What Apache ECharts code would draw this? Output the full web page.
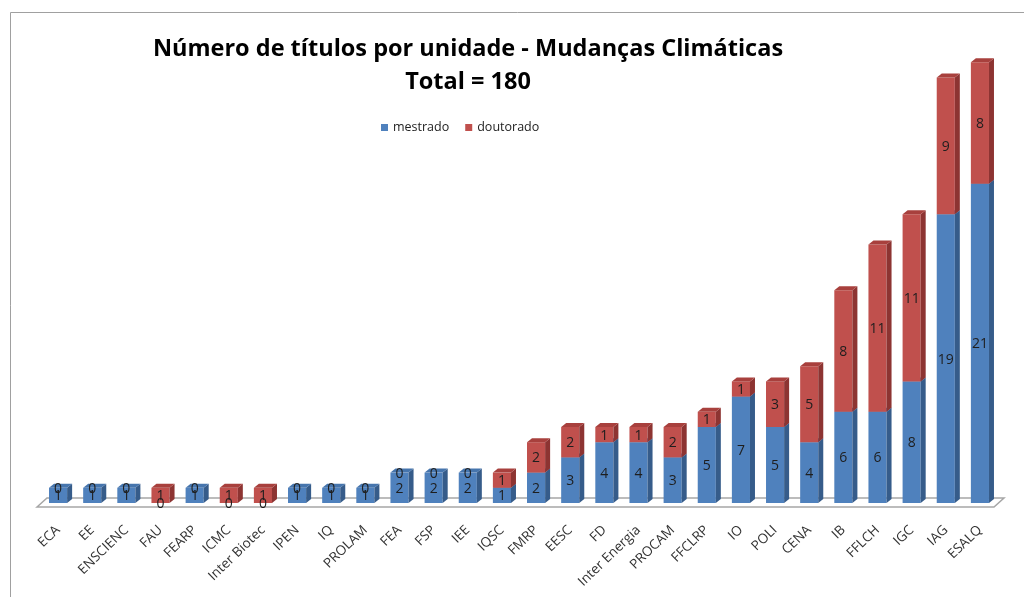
<!DOCTYPE html>
<html>
<head>
<meta charset="utf-8">
<script src="https://cdn.jsdelivr.net/npm/echarts@6/dist/echarts.min.js"></script>
<style>
  html, body { margin: 0; padding: 0; background: #fff; }
  #chart { width: 1024px; height: 597px; }
</style>
</head>
<body>
<div id="chart"></div>
<script>
// unidades (ordenadas pelo total)
var unidades = ['ECA', 'EE', 'ENSCIENC', 'FAU', 'FEARP', 'ICMC', 'Inter Biotec', 'IPEN', 'IQ', 'PROLAM',
  'FEA', 'FSP', 'IEE', 'IQSC', 'FMRP', 'EESC', 'FD', 'Inter Energia', 'PROCAM', 'FFCLRP',
  'IO', 'POLI', 'CENA', 'IB', 'FFLCH', 'IGC', 'IAG', 'ESALQ'];
var mestrado = [1, 1, 1, 0, 1, 0, 0, 1, 1, 1, 2, 2, 2, 1, 2, 3, 4, 4, 3, 5, 7, 5, 4, 6, 6, 8, 19, 21];
var doutorado = [0, 0, 0, 1, 0, 1, 1, 0, 0, 0, 0, 0, 0, 1, 2, 2, 1, 1, 2, 1, 1, 3, 5, 8, 11, 11, 9, 8];

var totalGeral = 180;

// dados empilhados: [indice, inicio, fim]
var dadosMestrado = mestrado.map(function (v, i) { return [i, 0, v]; });
var dadosDoutorado = doutorado.map(function (v, i) { return [i, mestrado[i], mestrado[i] + v]; });

var DX = 5, DY = 4;

// desenha uma barra "3D" (frente, lateral e topo)
function barra3d(frente, lateral, topo) {
  return function (params, api) {
    var idx = api.value(0), lo = api.value(1), hi = api.value(2);
    var p0 = api.coord([idx, lo]);
    var p1 = api.coord([idx, hi]);
    var bw = api.size([1, 0])[0] * 0.53;
    var x = p0[0] - bw / 2, yb = p0[1], yt = p1[1];
    var filhos = [];
    if (hi > lo) {
      filhos.push({
        type: 'rect',
        shape: { x: x, y: yt, width: bw, height: yb - yt },
        style: { fill: frente }
      });
      filhos.push({
        type: 'polygon',
        shape: { points: [[x + bw, yt], [x + bw + DX, yt - DY], [x + bw + DX, yb - DY], [x + bw, yb]] },
        style: { fill: lateral }
      });
      filhos.push({
        type: 'polygon',
        shape: { points: [[x, yt], [x + DX, yt - DY], [x + bw + DX, yt - DY], [x + bw, yt]] },
        style: { fill: topo }
      });
    }
    filhos.push({
      type: 'text',
      z2: 10,
      style: {
        text: String(hi - lo),
        x: p0[0],
        y: (yb + yt) / 2 + 1,
        align: 'center',
        verticalAlign: 'middle',
        fontSize: 14,
        fontFamily: 'Open Sans',
        fill: '#1e1e1e'
      }
    });
    return { type: 'group', children: filhos };
  };
}

// piso do grafico
function piso(params, api) {
  var cs = params.coordSys;
  var yb = cs.y + cs.height;
  var x0 = cs.x - 4, x1 = cs.x + cs.width - 3;
  return {
    type: 'polygon',
    shape: { points: [[x0, yb + 4], [x0 + 10, yb - 5], [x1 + 10, yb - 5], [x1, yb + 4]] },
    style: { fill: '#fff', stroke: '#a6a6a6', lineWidth: 1.5 }
  };
}

var chart = echarts.init(document.getElementById('chart'));
chart.setOption({
  animation: false,
  backgroundColor: '#fff',
  title: {
    text: 'Número de títulos por unidade - Mudanças Climáticas\nTotal = ' + totalGeral,
    left: 463,
    top: 28,
    textAlign: 'center',
    textStyle: {
      fontFamily: 'Open Sans',
      fontWeight: 'bold',
      fontSize: 23.5,
      lineHeight: 33,
      color: '#000'
    }
  },
  legend: {
    data: ['mestrado', 'doutorado'],
    left: 376,
    top: 116,
    icon: 'rect',
    itemWidth: 7,
    itemHeight: 7,
    itemGap: 16,
    textStyle: { fontFamily: 'Open Sans', fontSize: 12.5, color: '#222' }
  },
  graphic: [{
    type: 'rect',
    shape: { x: 10.5, y: 12.5, width: 1100, height: 700 },
    style: { fill: 'none', stroke: '#a0a0a0', lineWidth: 1 },
    silent: true
  }],
  grid: { left: 41, right: 27, top: 47, bottom: 94 },
  xAxis: {
    type: 'category',
    data: unidades,
    axisLine: { show: false },
    axisTick: { show: false },
    axisLabel: {
      rotate: 44,
      interval: 0,
      margin: 25,
      fontFamily: 'Open Sans',
      fontSize: 13.5,
      color: '#333'
    }
  },
  yAxis: { type: 'value', min: 0, max: 30, show: false },
  series: [
    {
      name: 'piso',
      type: 'custom',
      z: 1,
      silent: true,
      renderItem: piso,
      data: [[0, 0, 0]]
    },
    {
      name: 'mestrado',
      type: 'custom',
      itemStyle: { color: '#4f81bd' },
      renderItem: barra3d('#4f81bd', '#365c8a', '#4675ad'),
      encode: { x: 0, y: [1, 2] },
      data: dadosMestrado
    },
    {
      name: 'doutorado',
      type: 'custom',
      itemStyle: { color: '#c0504d' },
      renderItem: barra3d('#c0504d', '#8d3432', '#a8403d'),
      encode: { x: 0, y: [1, 2] },
      data: dadosDoutorado
    }
  ]
});
</script>
</body>
</html>
